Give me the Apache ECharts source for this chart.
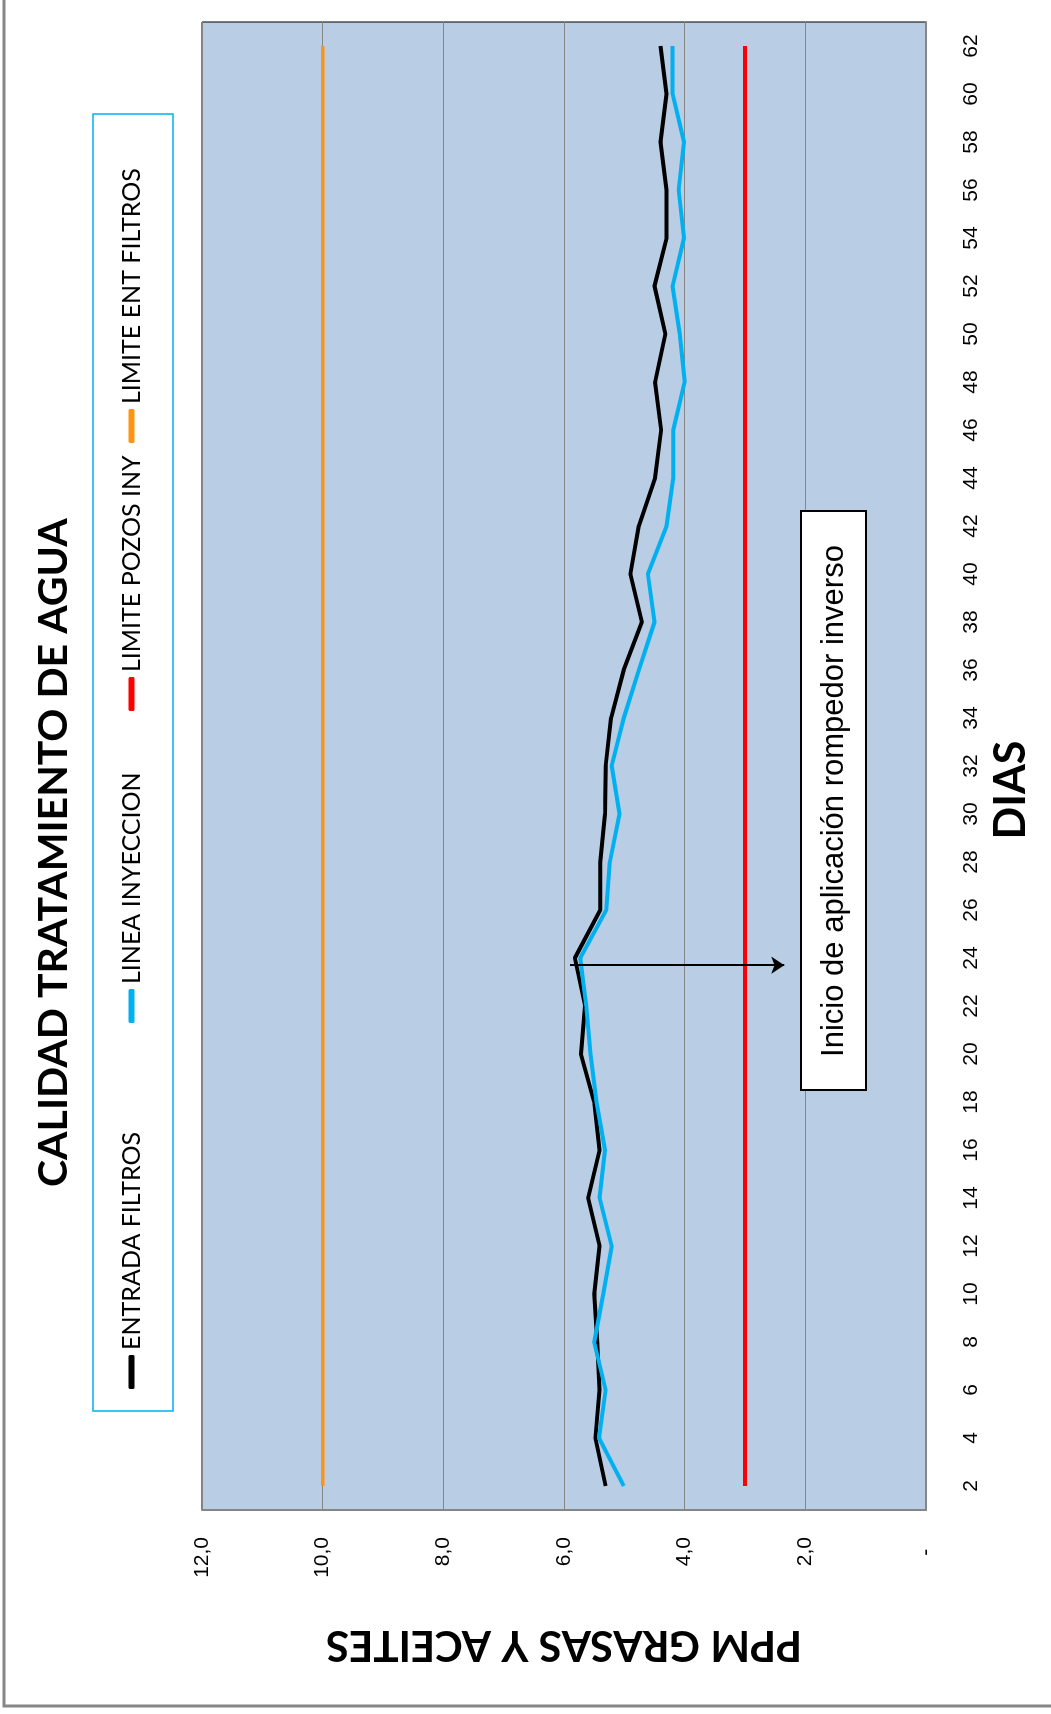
<!DOCTYPE html>
<html>
<head>
<meta charset="utf-8">
<title>Calidad tratamiento de agua</title>
<script src="https://cdn.jsdelivr.net/npm/echarts@6.0.0/dist/echarts.min.js"></script>
<style>
    html, body {
        margin: 0;
        padding: 0;
        background: #fff;
        overflow: hidden;
    }
    /* the chart is drawn upright and turned 90deg like in the scan */
    #main {
        position: absolute;
        left: 0;
        top: 0;
        width: 1714px;
        height: 1051px;
        transform-origin: 0 0;
        transform: translateY(1714px) rotate(-90deg);
    }
</style>
</head>
<body>
<div id="main"></div>
<script>
    // dias con dato (cada 2 dias)
    var dias = [2, 4, 6, 8, 10, 12, 14, 16, 18, 20, 22, 24, 26, 28, 30, 32,
        34, 36, 38, 40, 42, 44, 46, 48, 50, 52, 54, 56, 58, 60, 62];
    var entradaFiltros = [5.31, 5.48, 5.41, 5.45, 5.50, 5.41, 5.60, 5.41, 5.50, 5.72, 5.65,
        5.82, 5.40, 5.40, 5.32, 5.31, 5.22, 5.01, 4.71, 4.90, 4.76, 4.49, 4.39, 4.49,
        4.32, 4.50, 4.30, 4.30, 4.40, 4.30, 4.40];
    var lineaInyeccion = [5.01, 5.42, 5.31, 5.50, 5.35, 5.21, 5.41, 5.32, 5.46, 5.56, 5.63,
        5.73, 5.30, 5.24, 5.08, 5.21, 5.01, 4.76, 4.50, 4.61, 4.30, 4.19, 4.19, 4.00,
        4.08, 4.20, 4.01, 4.10, 4.01, 4.20, 4.20];
    var limitePozosIny = [3.0, 3.0, 3.0, 3.0, 3.0, 3.0, 3.0, 3.0, 3.0, 3.0, 3.0, 3.0, 3.0,
        3.0, 3.0, 3.0, 3.0, 3.0, 3.0, 3.0, 3.0, 3.0, 3.0, 3.0, 3.0, 3.0, 3.0, 3.0, 3.0, 3.0, 3.0];
    var limiteEntFiltros = [10.0, 10.0, 10.0, 10.0, 10.0, 10.0, 10.0, 10.0, 10.0, 10.0, 10.0,
        10.0, 10.0, 10.0, 10.0, 10.0, 10.0, 10.0, 10.0, 10.0, 10.0, 10.0, 10.0, 10.0, 10.0,
        10.0, 10.0, 10.0, 10.0, 10.0, 10.0];
    var diasTicks = [2, 4, 6, 8, 10, 12, 14, 16, 18, 20, 22, 24, 26, 28, 30, 32,
        34, 36, 38, 40, 42, 44, 46, 48, 50, 52, 54, 56, 58, 60, 62];
    // flecha "Inicio de aplicacion rompedor inverso"
    var flechaDia = [23.7, 23.7];
    var flechaPpm = [5.9, 2.35];

    var calibri = 'Lato, sans-serif';

    function pares(valores) {
        return dias.map(function (d, i) { return [d, valores[i]]; });
    }

    function serie(nombre, valores, color, ancho) {
        return {
            name: nombre,
            type: 'line',
            data: pares(valores),
            symbol: 'none',
            lineStyle: { color: color, width: ancho },
            itemStyle: { color: color }
        };
    }

    function leyenda(nombre, left) {
        return {
            data: [nombre],
            left: left,
            top: 119,
            padding: 0,
            icon: 'roundRect',
            itemWidth: 34,
            itemHeight: 6,
            selectedMode: false,
            textStyle: { fontFamily: calibri, fontSize: 25, color: '#000' }
        };
    }

    var myChart = echarts.init(document.getElementById('main'));

    var series = [
        serie('ENTRADA FILTROS', entradaFiltros, '#000000', 4),
        serie('LINEA INYECCION', lineaInyeccion, '#00B0F0', 4),
        serie('LIMITE POZOS INY', limitePozosIny, '#FF0000', 4),
        serie('LIMITE ENT FILTROS', limiteEntFiltros, '#FF9410', 3.5)
    ];
    series[0].markLine = {
        silent: true,
        symbol: ['none', 'arrow'],
        symbolSize: 13,
        label: { show: false },
        lineStyle: { color: '#000', width: 2, type: 'solid' },
        data: [[
            { coord: [flechaDia[0], flechaPpm[0]] },
            { coord: [flechaDia[1], flechaPpm[1]] }
        ]]
    };

    var options = {
        animation: false,
        backgroundColor: '#fff',
        title: {
            text: 'CALIDAD TRATAMIENTO DE AGUA',
            left: 527,
            top: 33,
            padding: 0,
            textStyle: { fontFamily: calibri, fontSize: 41, fontWeight: 'bold', color: '#000' }
        },
        legend: [
            leyenda('ENTRADA FILTROS', 325),
            leyenda('LINEA INYECCION', 691),
            leyenda('LIMITE POZOS INY', 1003),
            leyenda('LIMITE ENT FILTROS', 1271)
        ],
        grid: {
            left: 204,
            right: 22,
            top: 202,
            bottom: 125,
            show: true,
            backgroundColor: '#B9CDE5',
            borderColor: '#000',
            borderWidth: 1
        },
        xAxis: {
            type: 'value',
            min: 1,
            max: 63,
            name: 'DIAS',
            nameLocation: 'middle',
            nameGap: 64,
            nameTextStyle: {
                fontFamily: calibri, fontSize: 43, fontWeight: 'bold', color: '#000',
                padding: [0, 48, 0, 0]
            },
            splitLine: { show: false },
            axisTick: { show: false },
            axisLine: { show: true, lineStyle: { color: '#868686', width: 2 } },
            axisLabel: {
                customValues: diasTicks,
                margin: 35,
                fontFamily: 'Liberation Sans, sans-serif',
                fontSize: 21,
                color: '#000'
            }
        },
        yAxis: {
            type: 'value',
            min: 0,
            max: 12,
            interval: 2,
            name: 'PPM GRASAS Y ACEITES',
            nameLocation: 'middle',
            nameRotate: 90,
            nameGap: 114,
            nameTextStyle: { fontFamily: calibri, fontSize: 42, fontWeight: 'bold', color: '#000' },
            splitLine: { show: true, lineStyle: { color: '#868686', width: 1 } },
            axisTick: { show: false },
            axisLine: { show: true, lineStyle: { color: '#868686', width: 2 } },
            axisLabel: {
                margin: 27,
                fontFamily: 'Liberation Sans, sans-serif',
                fontSize: 21,
                color: '#000',
                formatter: function (v) {
                    return v === 0 ? '-  ' : v.toFixed(1).replace('.', ',');
                }
            }
        },
        graphic: [
            // borde del area del grafico
            {
                type: 'rect',
                shape: { x: 8, y: 4, width: 1800, height: 1100 },
                style: { fill: 'none', stroke: '#868686', lineWidth: 3 },
                silent: true
            },
            // marco de la leyenda
            {
                type: 'rect',
                shape: { x: 303, y: 93, width: 1297, height: 80 },
                style: { fill: 'none', stroke: '#00B0F0', lineWidth: 1.5 },
                silent: true
            },
            // cuadro de la nota
            {
                type: 'rect',
                shape: { x: 624, y: 801, width: 579, height: 65 },
                style: { fill: '#fff', stroke: '#000', lineWidth: 2 },
                z: 10,
                silent: true
            },
            {
                type: 'text',
                x: 913,
                y: 834,
                z: 11,
                style: {
                    text: 'Inicio de aplicación rompedor inverso',
                    fontFamily: 'Liberation Sans, Arial, sans-serif',
                    fontSize: 31,
                    fill: '#000',
                    align: 'center',
                    verticalAlign: 'middle'
                },
                silent: true
            }
        ],
        series: series
    };
    myChart.setOption(options);
</script>
</body>
</html>
